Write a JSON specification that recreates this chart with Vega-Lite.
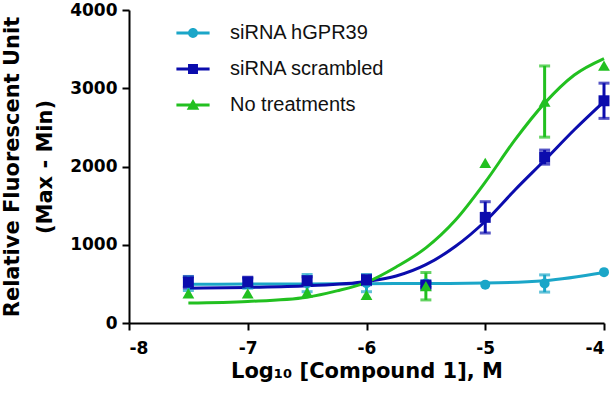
{
  "$schema": "https://vega.github.io/schema/vega-lite/v6.json",
  "width": 475,
  "height": 313,
  "autosize": "none",
  "padding": {"left": 129, "top": 10, "right": 9, "bottom": 77},
  "background": "white",
  "config": {
    "view": {"stroke": null},
    "font": "Liberation Sans",
    "axis": {"grid": false, "domainColor": "black", "domainWidth": 2, "tickColor": "black", "tickWidth": 2, "tickSize": 7, "labelFont": "DejaVu Sans", "labelFontWeight": "bold", "labelFontSize": 17, "labelColor": "black", "titleFont": "DejaVu Sans", "titleFontWeight": "bold", "titleFontSize": 21, "titleColor": "black"}
  },
  "datasets": {
    "points": [
      {"series": "siRNA hGPR39", "x": -7.5, "mean": 505, "err": 90},
      {"series": "siRNA hGPR39", "x": -7, "mean": 505, "err": 60},
      {"series": "siRNA hGPR39", "x": -6.5, "mean": 510, "err": 110},
      {"series": "siRNA hGPR39", "x": -6, "mean": 510, "err": 110},
      {"series": "siRNA hGPR39", "x": -5.5, "mean": 505, "err": 30},
      {"series": "siRNA hGPR39", "x": -5, "mean": 490, "err": 0},
      {"series": "siRNA hGPR39", "x": -4.5, "mean": 505, "err": 110},
      {"series": "siRNA hGPR39", "x": -4, "mean": 650, "err": 0},
      {"series": "siRNA scrambled", "x": -7.5, "mean": 520, "err": 70},
      {"series": "siRNA scrambled", "x": -7, "mean": 525, "err": 60},
      {"series": "siRNA scrambled", "x": -6.5, "mean": 540, "err": 50},
      {"series": "siRNA scrambled", "x": -6, "mean": 550, "err": 60},
      {"series": "siRNA scrambled", "x": -5.5, "mean": 485, "err": 30},
      {"series": "siRNA scrambled", "x": -5, "mean": 1350, "err": 200},
      {"series": "siRNA scrambled", "x": -4.5, "mean": 2120, "err": 90},
      {"series": "siRNA scrambled", "x": -4, "mean": 2840, "err": 225},
      {"series": "No treatments", "x": -7.5, "mean": 380, "err": 0},
      {"series": "No treatments", "x": -7, "mean": 380, "err": 0},
      {"series": "No treatments", "x": -6.5, "mean": 390, "err": 0},
      {"series": "No treatments", "x": -6, "mean": 360, "err": 0},
      {"series": "No treatments", "x": -5.5, "mean": 470, "err": 175},
      {"series": "No treatments", "x": -5, "mean": 2045, "err": 0},
      {"series": "No treatments", "x": -4.5, "mean": 2830, "err": 455},
      {"series": "No treatments", "x": -4, "mean": 3290, "err": 0}
    ],
    "curves": [
      {"series": "siRNA hGPR39", "x": -7.5, "mean": 495},
      {"series": "siRNA hGPR39", "x": -7, "mean": 497},
      {"series": "siRNA hGPR39", "x": -6.5, "mean": 499},
      {"series": "siRNA hGPR39", "x": -6, "mean": 502},
      {"series": "siRNA hGPR39", "x": -5.5, "mean": 505},
      {"series": "siRNA hGPR39", "x": -5, "mean": 510},
      {"series": "siRNA hGPR39", "x": -4.5, "mean": 540},
      {"series": "siRNA hGPR39", "x": -4, "mean": 645},
      {"series": "siRNA scrambled", "x": -7.5, "mean": 445},
      {"series": "siRNA scrambled", "x": -7, "mean": 455},
      {"series": "siRNA scrambled", "x": -6.5, "mean": 475},
      {"series": "siRNA scrambled", "x": -6, "mean": 530},
      {"series": "siRNA scrambled", "x": -5.75, "mean": 600},
      {"series": "siRNA scrambled", "x": -5.5, "mean": 745},
      {"series": "siRNA scrambled", "x": -5.25, "mean": 980},
      {"series": "siRNA scrambled", "x": -5, "mean": 1300},
      {"series": "siRNA scrambled", "x": -4.75, "mean": 1700},
      {"series": "siRNA scrambled", "x": -4.5, "mean": 2080},
      {"series": "siRNA scrambled", "x": -4.25, "mean": 2470},
      {"series": "siRNA scrambled", "x": -4, "mean": 2830},
      {"series": "No treatments", "x": -7.5, "mean": 255},
      {"series": "No treatments", "x": -7, "mean": 275},
      {"series": "No treatments", "x": -6.5, "mean": 330},
      {"series": "No treatments", "x": -6.25, "mean": 410},
      {"series": "No treatments", "x": -6, "mean": 520},
      {"series": "No treatments", "x": -5.75, "mean": 716},
      {"series": "No treatments", "x": -5.5, "mean": 960},
      {"series": "No treatments", "x": -5.25, "mean": 1316},
      {"series": "No treatments", "x": -5, "mean": 1800},
      {"series": "No treatments", "x": -4.75, "mean": 2340},
      {"series": "No treatments", "x": -4.5, "mean": 2810},
      {"series": "No treatments", "x": -4.25, "mean": 3170},
      {"series": "No treatments", "x": -4, "mean": 3380}
    ]
  },
  "encoding": {
    "x": {"field": "x", "type": "quantitative", "title": "Log₁₀ [Compound 1], M", "scale": {"domain": [-8, -4], "nice": false, "zero": false}, "axis": {"values": [-8, -7, -6, -5, -4], "labelExpr": "datum.value + ''", "labelPadding": 10, "titlePadding": 4}},
    "y": {"field": "mean", "type": "quantitative", "title": ["Relative Fluorescent Unit", "(Max - Min)"], "scale": {"domain": [0, 4000], "nice": false}, "axis": {"values": [0, 1000, 2000, 3000, 4000], "labelExpr": "datum.value + ''", "labelPadding": 5, "titlePadding": 14, "titleLineHeight": 33}}
  },
  "layer": [
    {
      "data": {"name": "curves"},
      "mark": {"type": "line", "strokeWidth": 3, "interpolate": "monotone"},
      "encoding": {
        "color": {
          "field": "series", "type": "nominal",
          "scale": {"domain": ["siRNA hGPR39", "siRNA scrambled", "No treatments"], "range": ["#1BA6C8", "#0B0CAD", "#22C020"]},
          "legend": {
            "title": null, "orient": "none", "legendX": 47, "legendY": 6, "padding": 0,
            "symbolSize": 1100, "rowPadding": 9, "labelOffset": 20,
            "labelFont": "Liberation Sans", "labelFontSize": 20, "labelColor": "#111",
            "symbolStrokeWidth": 0, "symbolOpacity": 1,
            "encode": {"symbols": {"update": {
              "shape": {"signal": "datum.value === 'siRNA hGPR39' ? 'M-1,-0.09H1V0.09H-1Z M0.3,0A0.3,0.3 0 1,1 -0.3,0A0.3,0.3 0 1,1 0.3,0Z' : datum.value === 'siRNA scrambled' ? 'M-1,-0.09H1V0.09H-1Z M-0.3,-0.3H0.3V0.3H-0.3Z' : 'M-1,-0.09H1V0.09H-1Z M0,-0.36L0.38,0.28H-0.38Z'"},
              "fill": {"scale": "color", "field": "value"},
              "fillOpacity": {"value": 1},
              "strokeWidth": {"value": 0}
            }}}
          }
        }
      }
    },
    {
      "data": {"name": "points"},
      "transform": [{"filter": "datum.err > 0"}],
      "mark": {"type": "errorbar", "ticks": {"size": 11, "thickness": 3}, "rule": {"strokeWidth": 3}},
      "encoding": {
        "yError": {"field": "err"},
        "color": {"field": "series", "type": "nominal", "legend": null}
      }
    },
    {
      "data": {"name": "points"},
      "transform": [{"filter": "datum.series === 'siRNA hGPR39'"}],
      "mark": {"type": "point", "filled": true, "opacity": 1, "shape": "circle", "size": 100},
      "encoding": {
        "color": {"field": "series", "type": "nominal", "legend": null}
      }
    },
    {
      "data": {"name": "points"},
      "transform": [{"filter": "datum.series === 'siRNA scrambled'"}],
      "mark": {"type": "point", "filled": true, "opacity": 1, "shape": "square", "size": 120},
      "encoding": {
        "color": {"field": "series", "type": "nominal", "legend": null}
      }
    },
    {
      "data": {"name": "points"},
      "transform": [{"filter": "datum.series === 'No treatments'"}],
      "mark": {"type": "point", "filled": true, "opacity": 1, "shape": "triangle-up", "size": 140},
      "encoding": {
        "color": {"field": "series", "type": "nominal", "legend": null}
      }
    }
  ]
}
